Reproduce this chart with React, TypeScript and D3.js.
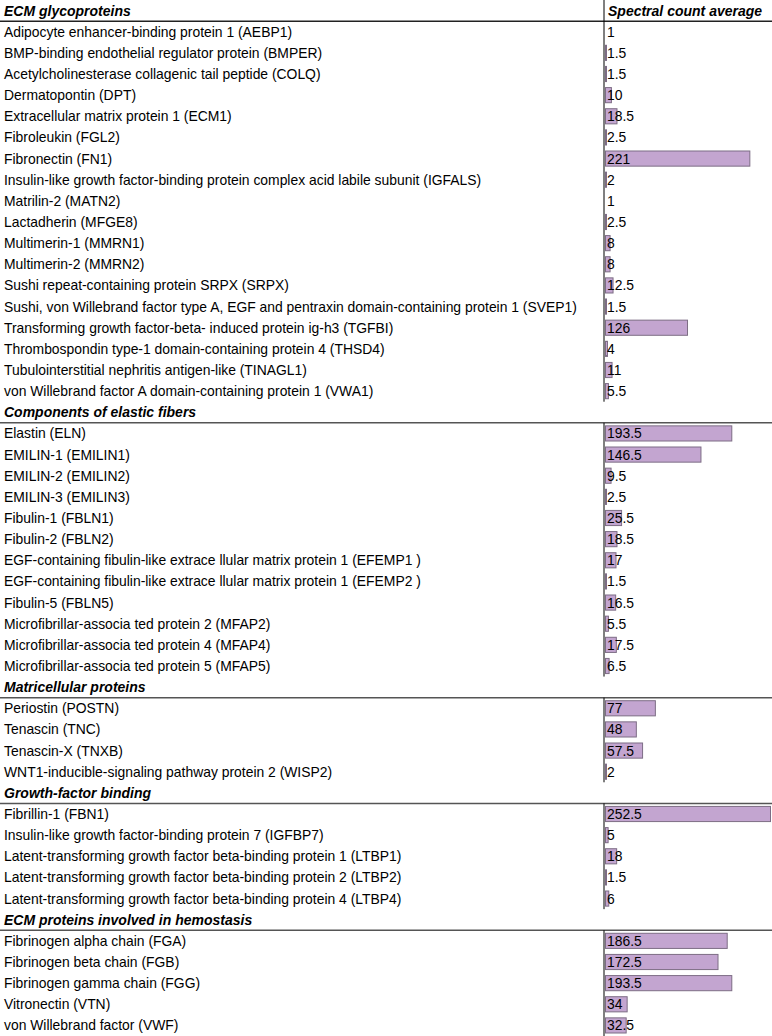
import React from "react";
import * as d3 from "d3";

const groupTitles = [
  "ECM glycoproteins",
  "Components of elastic fibers",
  "Matricellular proteins",
  "Growth-factor binding",
  "ECM proteins involved in hemostasis",
];

const glycoLabels = [
  "Adipocyte enhancer-binding protein 1 (AEBP1)",
  "BMP-binding endothelial regulator protein (BMPER)",
  "Acetylcholinesterase collagenic tail peptide (COLQ)",
  "Dermatopontin (DPT)",
  "Extracellular matrix protein 1 (ECM1)",
  "Fibroleukin (FGL2)",
  "Fibronectin (FN1)",
  "Insulin-like growth factor-binding protein complex acid labile subunit (IGFALS)",
  "Matrilin-2 (MATN2)",
  "Lactadherin (MFGE8)",
  "Multimerin-1 (MMRN1)",
  "Multimerin-2 (MMRN2)",
  "Sushi repeat-containing  protein SRPX (SRPX)",
  "Sushi, von Willebrand factor type A, EGF and pentraxin domain-containing protein 1 (SVEP1)",
  "Transforming growth factor-beta- induced protein ig-h3 (TGFBI)",
  "Thrombospondin type-1 domain-containing protein 4 (THSD4)",
  "Tubulointerstitial nephritis antigen-like (TINAGL1)",
  "von Willebrand factor A domain-containing protein 1 (VWA1)",
];
const glycoValues = [1, 1.5, 1.5, 10, 18.5, 2.5, 221, 2, 1, 2.5, 8, 8, 12.5, 1.5, 126, 4, 11, 5.5];

const elasticLabels = [
  "Elastin (ELN)",
  "EMILIN-1 (EMILIN1)",
  "EMILIN-2 (EMILIN2)",
  "EMILIN-3 (EMILIN3)",
  "Fibulin-1 (FBLN1)",
  "Fibulin-2 (FBLN2)",
  "EGF-containing fibulin-like extrace llular matrix protein 1 (EFEMP1 )",
  "EGF-containing fibulin-like extrace llular matrix protein 1 (EFEMP2 )",
  "Fibulin-5 (FBLN5)",
  "Microfibrillar-associa ted protein 2 (MFAP2)",
  "Microfibrillar-associa ted protein 4 (MFAP4)",
  "Microfibrillar-associa ted protein 5 (MFAP5)",
];
const elasticValues = [193.5, 146.5, 9.5, 2.5, 25.5, 18.5, 17, 1.5, 16.5, 5.5, 17.5, 6.5];

const matriLabels = [
  "Periostin (POSTN)",
  "Tenascin (TNC)",
  "Tenascin-X (TNXB)",
  "WNT1-inducible-signaling pathway protein 2 (WISP2)",
];
const matriValues = [77, 48, 57.5, 2];

const growthLabels = [
  "Fibrillin-1 (FBN1)",
  "Insulin-like growth factor-binding protein 7 (IGFBP7)",
  "Latent-transforming growth factor beta-binding protein 1 (LTBP1)",
  "Latent-transforming growth factor beta-binding protein 2 (LTBP2)",
  "Latent-transforming growth factor beta-binding protein 4 (LTBP4)",
];
const growthValues = [252.5, 5, 18, 1.5, 6];

const hemoLabels = [
  "Fibrinogen alpha chain (FGA)",
  "Fibrinogen beta chain (FGB)",
  "Fibrinogen gamma chain (FGG)",
  "Vitronectin (VTN)",
  "von Willebrand factor (VWF)",
];
const hemoValues = [186.5, 172.5, 193.5, 34, 32.5];

const valueHeader = "Spectral count average";

const groupLabels = [glycoLabels, elasticLabels, matriLabels, growthLabels, hemoLabels];
const groupValues = [glycoValues, elasticValues, matriValues, growthValues, hemoValues];

type Row = { kind: "header" | "item"; label: string; value?: number; group: number };

const W = 772;
const H = 1036;
const splitX = 604;
const barX0 = 605;
const barX1 = 770;
const FONT = "'Liberation Sans', Arial, sans-serif";
const FS = 13.9;
const HFS = 14;

export default function App() {
  const rows: Row[] = [];
  groupTitles.forEach((t, g) => {
    rows.push({ kind: "header", label: t, group: g });
    groupLabels[g].forEach((l, i) =>
      rows.push({ kind: "item", label: l, value: groupValues[g][i], group: g })
    );
  });

  const y = d3
    .scaleBand<number>()
    .domain(rows.map((_, i) => i))
    .range([0, H])
    .padding(0);
  const rh = y.bandwidth();

  const maxV = d3.max(groupValues.flat()) as number;
  const x = d3.scaleLinear().domain([1, maxV]).range([barX0, barX1]);

  const segs: { y1: number; y2: number }[] = [];
  groupTitles.forEach((_, g) => {
    const idx = rows.map((r, i) => (r.group === g ? i : -1)).filter((i) => i >= 0);
    const first = idx[0];
    const last = idx[idx.length - 1];
    segs.push({
      y1: g === 0 ? 0 : (y(first) as number) + rh,
      y2: (y(last) as number) + rh,
    });
  });

  return (
    <svg
      width={W}
      height={H}
      style={{ position: "absolute", left: 0, top: 0, background: "#fff" }}
      fontFamily={FONT}
    >
      <rect x={0} y={0} width={W} height={H} fill="#fff" />
      {rows.map((r, i) => {
        const top = y(i) as number;
        const cy = top + rh / 2;
        if (r.kind === "header") {
          return (
            <g key={i}>
              <text
                x={4}
                y={cy + 5}
                fontSize={HFS}
                fontWeight="bold"
                fontStyle="italic"
                fill="#000"
              >
                {r.label}
              </text>
              {i === 0 && (
                <text
                  x={608}
                  y={cy + 5}
                  fontSize={HFS}
                  fontWeight="bold"
                  fontStyle="italic"
                  fill="#000"
                >
                  {valueHeader}
                </text>
              )}
              <line
                x1={0}
                x2={W}
                y1={top + rh}
                y2={top + rh}
                stroke={i === 0 ? "#222" : "#555"}
                strokeWidth={1.5}
              />
            </g>
          );
        }
        const v = r.value as number;
        const bw = x(v) - barX0;
        return (
          <g key={i}>
            <text x={4} y={cy + 5} fontSize={FS} fill="#000">
              {r.label}
            </text>
            {bw > 0.3 && (
              <rect
                x={barX0 + 0.5}
                y={top + 3}
                width={Math.max(bw, 1)}
                height={rh - 6}
                fill="#c3a5d0"
                stroke="#7d6d85"
                strokeWidth={1}
              />
            )}
            <text x={607} y={cy + 5} fontSize={FS} fill="#000">
              {String(v)}
            </text>
          </g>
        );
      })}
      {segs.map((s, i) => (
        <line key={i} x1={splitX} x2={splitX} y1={s.y1} y2={s.y2} stroke="#000" strokeWidth={1} />
      ))}
    </svg>
  );
}
